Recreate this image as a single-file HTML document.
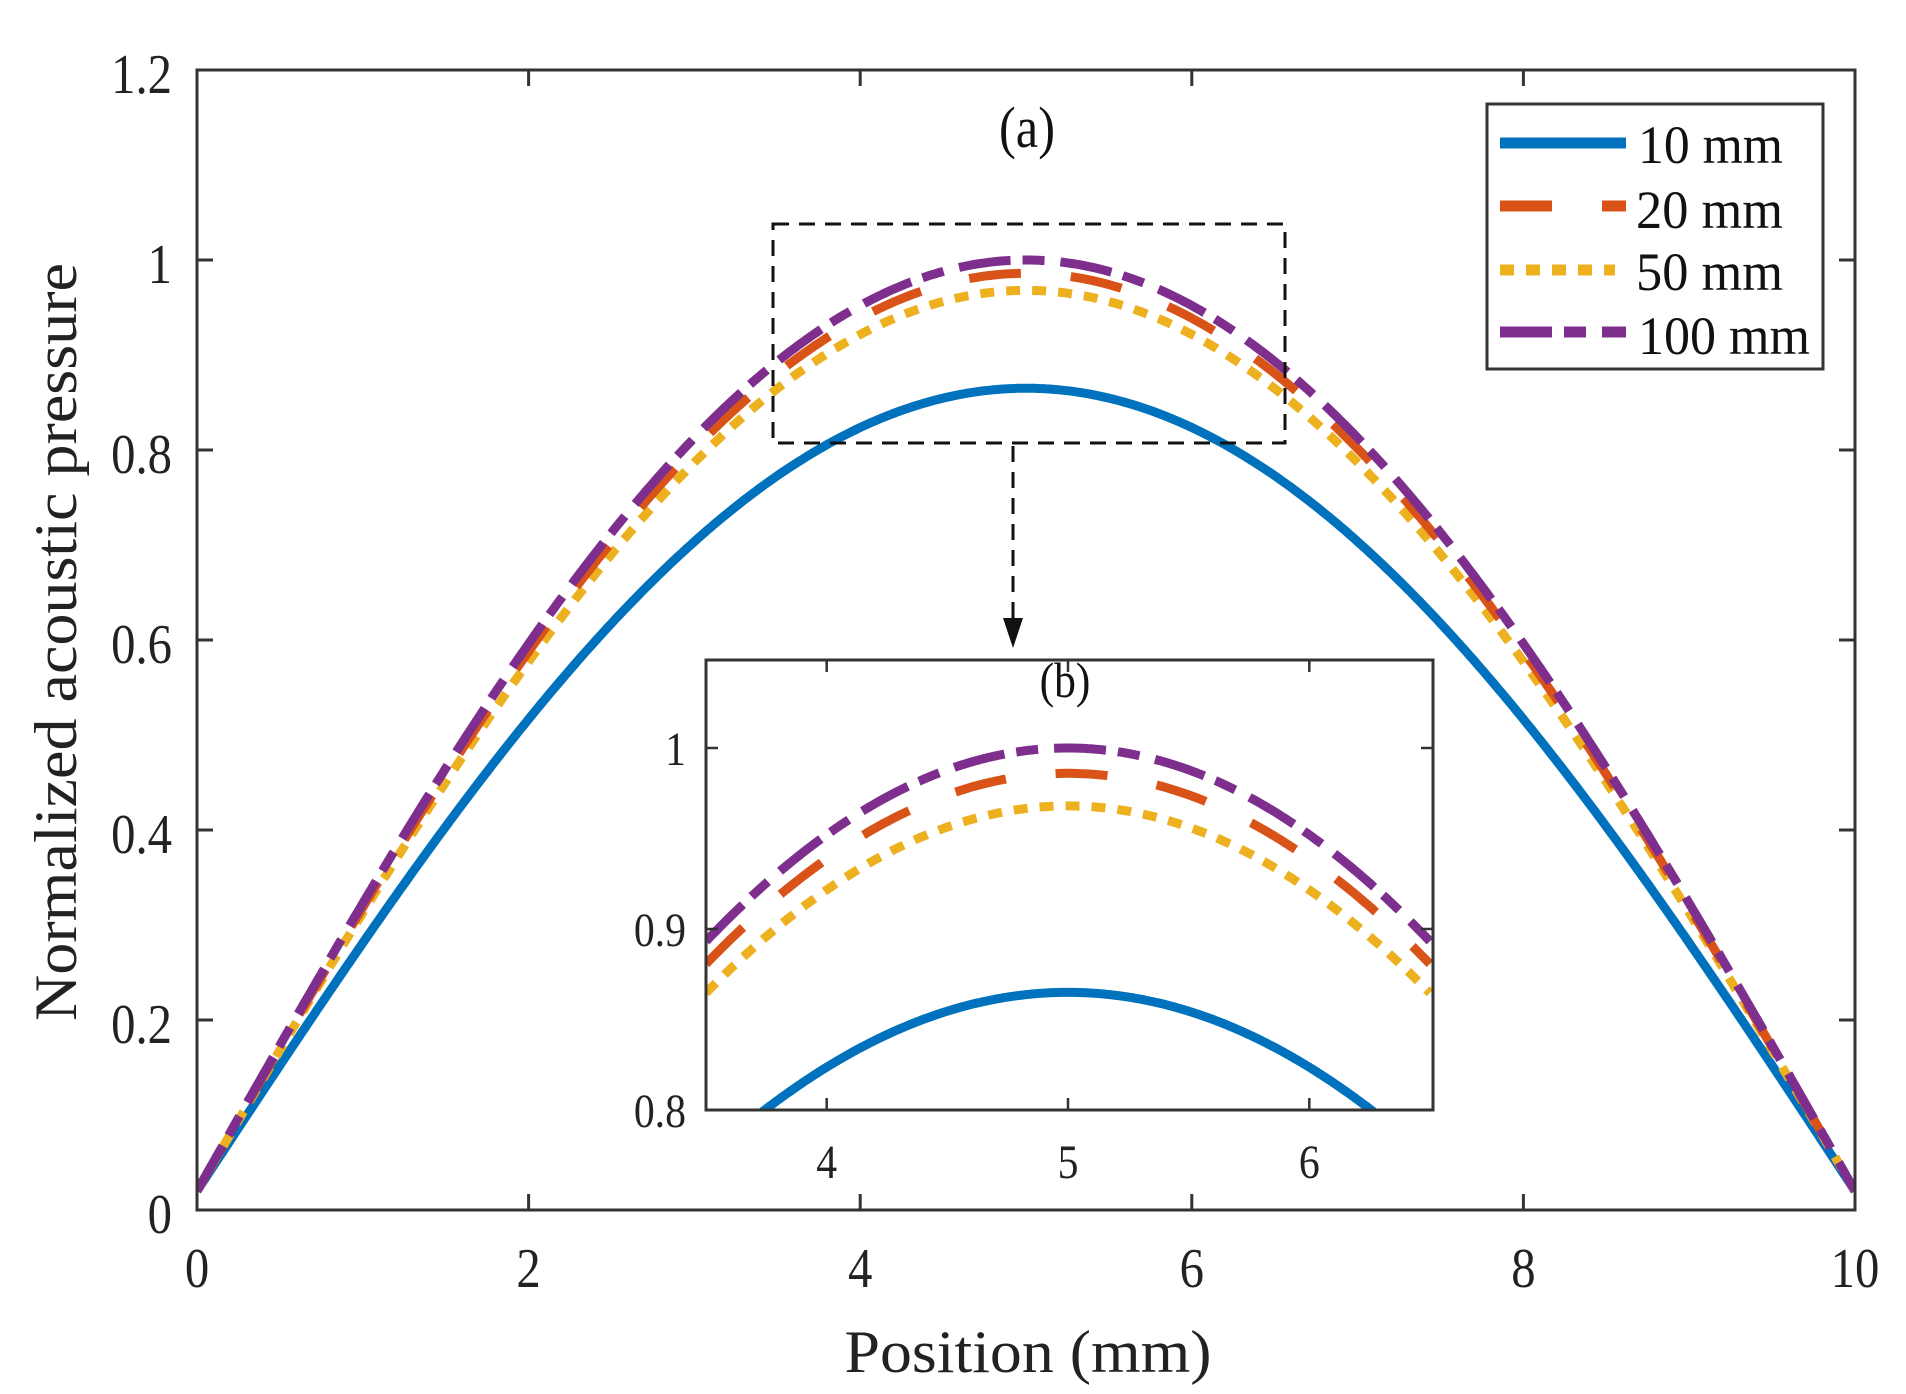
<!DOCTYPE html>
<html><head><meta charset="utf-8"><style>
html,body{margin:0;padding:0;background:#fff;}
svg{display:block;font-family:"Liberation Serif",serif;}
</style></head><body>
<svg id="s" width="1906" height="1394" viewBox="0 0 1906 1394" xmlns="http://www.w3.org/2000/svg">
<defs>
<clipPath id="cm"><rect x="197" y="70" width="1658" height="1140"/></clipPath>
<clipPath id="ci"><rect x="706" y="660" width="727" height="450"/></clipPath>
</defs>
<rect width="1906" height="1394" fill="#fff"/>
<g id="main" clip-path="url(#cm)"></g>
<rect x="197" y="70" width="1658" height="1140" fill="none" stroke="#333" stroke-width="3"/>
<g stroke="#333" stroke-width="3">
<line x1="197" y1="1210" x2="197" y2="1194"/><line x1="197" y1="70" x2="197" y2="86"/>
<line x1="528.6" y1="1210" x2="528.6" y2="1194"/><line x1="528.6" y1="70" x2="528.6" y2="86"/>
<line x1="860.2" y1="1210" x2="860.2" y2="1194"/><line x1="860.2" y1="70" x2="860.2" y2="86"/>
<line x1="1191.8" y1="1210" x2="1191.8" y2="1194"/><line x1="1191.8" y1="70" x2="1191.8" y2="86"/>
<line x1="1523.4" y1="1210" x2="1523.4" y2="1194"/><line x1="1523.4" y1="70" x2="1523.4" y2="86"/>
<line x1="197" y1="1020" x2="213" y2="1020"/><line x1="1855" y1="1020" x2="1839" y2="1020"/>
<line x1="197" y1="830" x2="213" y2="830"/><line x1="1855" y1="830" x2="1839" y2="830"/>
<line x1="197" y1="640" x2="213" y2="640"/><line x1="1855" y1="640" x2="1839" y2="640"/>
<line x1="197" y1="450" x2="213" y2="450"/><line x1="1855" y1="450" x2="1839" y2="450"/>
<line x1="197" y1="260" x2="213" y2="260"/><line x1="1855" y1="260" x2="1839" y2="260"/>
</g>
<g fill="#222" font-size="56" text-anchor="end">
<text transform="translate(172,1233) scale(0.87,1)">0</text>
<text transform="translate(172,1043) scale(0.87,1)">0.2</text>
<text transform="translate(172,853) scale(0.87,1)">0.4</text>
<text transform="translate(172,663) scale(0.87,1)">0.6</text>
<text transform="translate(172,473) scale(0.87,1)">0.8</text>
<text transform="translate(172,283) scale(0.87,1)">1</text>
<text transform="translate(172,93) scale(0.87,1)">1.2</text>
</g>
<g fill="#222" font-size="56" text-anchor="middle">
<text transform="translate(197,1287) scale(0.87,1)">0</text>
<text transform="translate(528.6,1287) scale(0.87,1)">2</text>
<text transform="translate(860.2,1287) scale(0.87,1)">4</text>
<text transform="translate(1191.8,1287) scale(0.87,1)">6</text>
<text transform="translate(1523.4,1287) scale(0.87,1)">8</text>
<text transform="translate(1855,1287) scale(0.87,1)">10</text>
</g>
<text x="1028" y="1372" font-size="60" text-anchor="middle" fill="#222" textLength="367" lengthAdjust="spacingAndGlyphs">Position (mm)</text>
<text transform="translate(76,642) rotate(-90)" font-size="60" text-anchor="middle" fill="#222" textLength="758" lengthAdjust="spacingAndGlyphs">Normalized acoustic pressure</text>
<text transform="translate(1027,147) scale(0.87,1)" font-size="58" text-anchor="middle" fill="#111">(a)</text>
<rect x="773" y="224" width="512" height="219" fill="none" stroke="#111" stroke-width="3" stroke-dasharray="16,10"/>
<line x1="1013" y1="446" x2="1013" y2="625" stroke="#111" stroke-width="3" stroke-dasharray="16,10"/>
<polygon points="1003,618 1023,618 1013,648" fill="#111"/>
<rect x="1487" y="104" width="336" height="265" fill="#fff" stroke="#333" stroke-width="3"/>
<line x1="1500" y1="143" x2="1626" y2="143" stroke="#0072BD" stroke-width="11"/>
<line x1="1500" y1="206" x2="1626" y2="206" stroke="#D95319" stroke-width="11" stroke-dasharray="52,50"/>
<line x1="1500" y1="270" x2="1615" y2="270" stroke="#EDB120" stroke-width="11" stroke-dasharray="14,12"/>
<line x1="1500" y1="332" x2="1626" y2="332" stroke="#7E2F8E" stroke-width="11" stroke-dasharray="52,12,22,16"/>
<g font-size="54" fill="#111">
<text x="1638" y="163" textLength="145" lengthAdjust="spacingAndGlyphs">10 mm</text>
<text x="1636" y="228" textLength="147" lengthAdjust="spacingAndGlyphs">20 mm</text>
<text x="1636" y="290" textLength="147" lengthAdjust="spacingAndGlyphs">50 mm</text>
<text x="1638" y="354" textLength="172" lengthAdjust="spacingAndGlyphs">100 mm</text>
</g>
<rect x="706" y="660" width="727" height="450" fill="#fff"/>
<g id="ins" clip-path="url(#ci)"></g>
<rect x="706" y="660" width="727" height="450" fill="none" stroke="#333" stroke-width="3"/>
<g stroke="#333" stroke-width="2.5">
<line x1="826.7" y1="1110" x2="826.7" y2="1098"/><line x1="826.7" y1="660" x2="826.7" y2="672"/>
<line x1="1068" y1="1110" x2="1068" y2="1098"/><line x1="1068" y1="660" x2="1068" y2="672"/>
<line x1="1309.3" y1="1110" x2="1309.3" y2="1098"/><line x1="1309.3" y1="660" x2="1309.3" y2="672"/>
<line x1="706" y1="929" x2="718" y2="929"/><line x1="1433" y1="929" x2="1421" y2="929"/>
<line x1="706" y1="748" x2="718" y2="748"/><line x1="1433" y1="748" x2="1421" y2="748"/>
</g>
<g fill="#222" font-size="48" text-anchor="end">
<text transform="translate(686,1127) scale(0.87,1)">0.8</text>
<text transform="translate(686,946) scale(0.87,1)">0.9</text>
<text transform="translate(686,765) scale(0.87,1)">1</text>
</g>
<g fill="#222" font-size="48" text-anchor="middle">
<text transform="translate(826.7,1178) scale(0.87,1)">4</text>
<text transform="translate(1068,1178) scale(0.87,1)">5</text>
<text transform="translate(1309.3,1178) scale(0.87,1)">6</text>
</g>
<text transform="translate(1065,697) scale(0.87,1)" font-size="50" text-anchor="middle" fill="#111">(b)</text>
<script>
(function(){
var NS="http://www.w3.org/2000/svg";
var series=[
 {A:0.865,c:"#0072BD",d:"none"},
 {A:0.968,c:"#EDB120",d:"14,12"},
 {A:0.986,c:"#D95319",d:"52,50"},
 {A:1.0,c:"#7E2F8E",d:"52,12,22,16"}
];
function f(A,x){return 0.02+(A-0.02)*Math.sin(Math.PI*x/10);}
function mk(g,pts,s,w){var p=document.createElementNS(NS,"polyline");p.setAttribute("points",pts);p.setAttribute("fill","none");p.setAttribute("stroke",s.c);p.setAttribute("stroke-width",w);if(s.d!="none")p.setAttribute("stroke-dasharray",s.d);g.appendChild(p);}
var gm=document.getElementById("main"),gi=document.getElementById("ins");
series.forEach(function(s){
 var a=[],b=[];
 for(var i=0;i<=400;i++){var x=i/40;a.push((197+165.8*x).toFixed(1)+","+(1210-950*f(s.A,x)).toFixed(1));}
 for(var i=0;i<=300;i++){var x=3.5+i/100;b.push((706+241.3*(x-3.5)).toFixed(1)+","+(1110-1810*(f(s.A,x)-0.8)).toFixed(1));}
 mk(gm,a.join(" "),s,9);mk(gi,b.join(" "),s,9);
});
})();
</script>
</svg>
</body></html>
